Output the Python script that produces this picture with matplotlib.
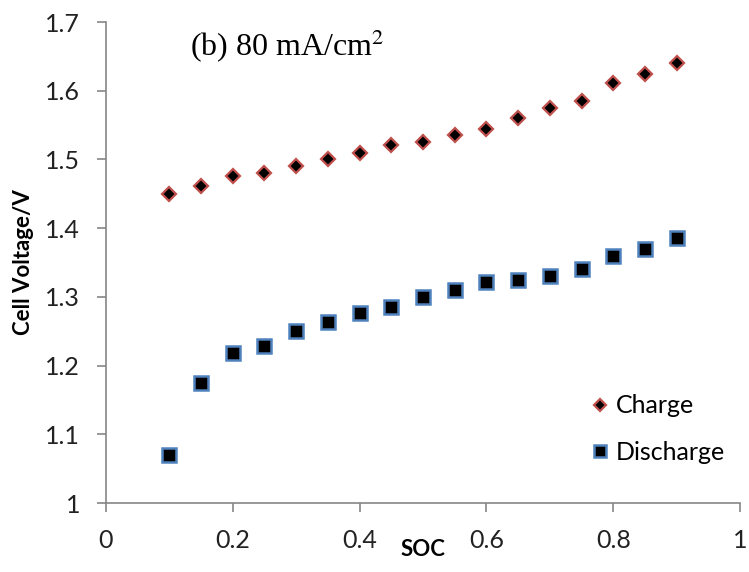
import matplotlib
matplotlib.use("Agg")
import matplotlib.pyplot as plt

# ------ Data -----------------------
soc = [0.10, 0.15, 0.20, 0.25, 0.30, 0.35, 0.40, 0.45, 0.50,
       0.55, 0.60, 0.65, 0.70, 0.75, 0.80, 0.85, 0.90]
charge = [1.450, 1.461, 1.476, 1.480, 1.491, 1.500, 1.510, 1.521, 1.525,
          1.536, 1.545, 1.560, 1.575, 1.585, 1.611, 1.625, 1.640]
discharge = [1.070, 1.175, 1.219, 1.229, 1.250, 1.263, 1.276, 1.285, 1.300,
             1.310, 1.321, 1.325, 1.330, 1.340, 1.360, 1.370, 1.385]
xticks = [0, 0.2, 0.4, 0.6, 0.8, 1]
yticks = [1, 1.1, 1.2, 1.3, 1.4, 1.5, 1.6, 1.7]
# ------------------------------------

axis_grey = "#868686"
tick_font = "Lato"

fig = plt.figure(figsize=(7.49, 5.72), dpi=100)
ax = fig.add_axes([0.1415, 0.1206, 0.8465, 0.8409])

ax.plot(soc, charge, linestyle="none", marker="D", markersize=7.5,
        markerfacecolor="black", markeredgecolor="#c0504d", markeredgewidth=1.6,
        label="Charge")
ax.plot(soc, discharge, linestyle="none", marker="s", markersize=10,
        markerfacecolor="black", markeredgecolor="#4f81bd", markeredgewidth=1.8,
        label="Discharge")

ax.set_xlim(0, 1)
ax.set_ylim(1, 1.7)
ax.set_xticks(xticks)
ax.set_yticks(yticks)
ax.set_xticklabels([f"{t:g}" for t in xticks], fontfamily=tick_font, fontsize=18)
ax.set_yticklabels([f"{t:g}" for t in yticks], fontfamily=tick_font, fontsize=18)

for side in ["top", "right"]:
    ax.spines[side].set_visible(False)
for side in ["left", "bottom"]:
    ax.spines[side].set_color(axis_grey)
    ax.spines[side].set_linewidth(1.2)
ax.tick_params(direction="out", length=6.5, width=1.2, color=axis_grey,
               labelcolor="#222222")
ax.tick_params(axis="x", pad=12)
ax.tick_params(axis="y", pad=12)

ax.set_xlabel("SOC", fontfamily=tick_font, fontweight="bold", fontsize=16,
              labelpad=-9)
ax.set_ylabel("Cell Voltage/V", fontfamily=tick_font, fontweight="bold",
              fontsize=16, labelpad=8)

ax.text(0.132, 1.664, r"(b) 80 mA/cm$^2$", fontfamily="Liberation Serif",
        fontsize=23, va="center", ha="left", math_fontfamily="stix")

ax.legend(loc="upper left", bbox_to_anchor=(0.765, 0.226), frameon=False,
          borderpad=0, borderaxespad=0,
          prop={"family": tick_font, "size": 18}, handlelength=0.7,
          handletextpad=0.3, labelspacing=0.95, markerscale=0.85)

fig.savefig("out.png", dpi=100)
